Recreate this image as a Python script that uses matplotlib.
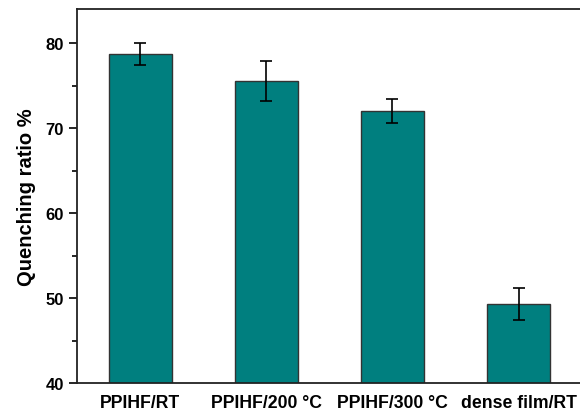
import matplotlib
matplotlib.use("Agg")
import matplotlib.pyplot as plt
from matplotlib.ticker import MultipleLocator

# quenching ratio per sample
samples = ["PPIHF/RT", "PPIHF/200 \u00b0C", "PPIHF/300 \u00b0C", "dense film/RT"]
ratio = [78.75, 75.6, 72.05, 49.3]
ratio_err = [1.27, 2.34, 1.43, 1.85]

plt.rcParams['font.family'] = ['Liberation Sans', 'DejaVu Sans']
plt.rcParams['font.weight'] = 'bold'

fig = plt.figure(figsize=(5.8, 4.14), dpi=100)
ax = fig.add_axes([0.1328, 0.0725, 0.87, 0.9033])

xpos = list(range(1, len(samples) + 1))
ax.bar(xpos, ratio, width=0.5, color="#007f7f", edgecolor="#333333", linewidth=1.0,
       yerr=ratio_err, error_kw=dict(ecolor="black", elinewidth=1.2, capsize=4, capthick=1.2))

ax.set_xlim(0.5, 4.5)
ax.set_ylim(40, 84.05)
ax.yaxis.set_major_locator(MultipleLocator(10))
ax.yaxis.set_minor_locator(MultipleLocator(5))
ax.set_xticks(xpos)
ax.set_xticklabels(samples, fontsize=12.7, fontweight='bold')
ax.tick_params(axis='x', length=0, pad=8)
ax.tick_params(axis='y', which='major', direction='out', length=6, width=1.2, labelsize=12)
ax.tick_params(axis='y', which='minor', direction='out', length=3.6, width=1.2)
for lbl in ax.get_yticklabels():
    lbl.set_fontweight('bold')
ax.set_ylabel("Quenching ratio %", fontsize=14.5, fontweight='bold', labelpad=7)
for s in ax.spines.values():
    s.set_linewidth(1.3)
    s.set_color("#222222")

fig.savefig("out.png", dpi=100)
